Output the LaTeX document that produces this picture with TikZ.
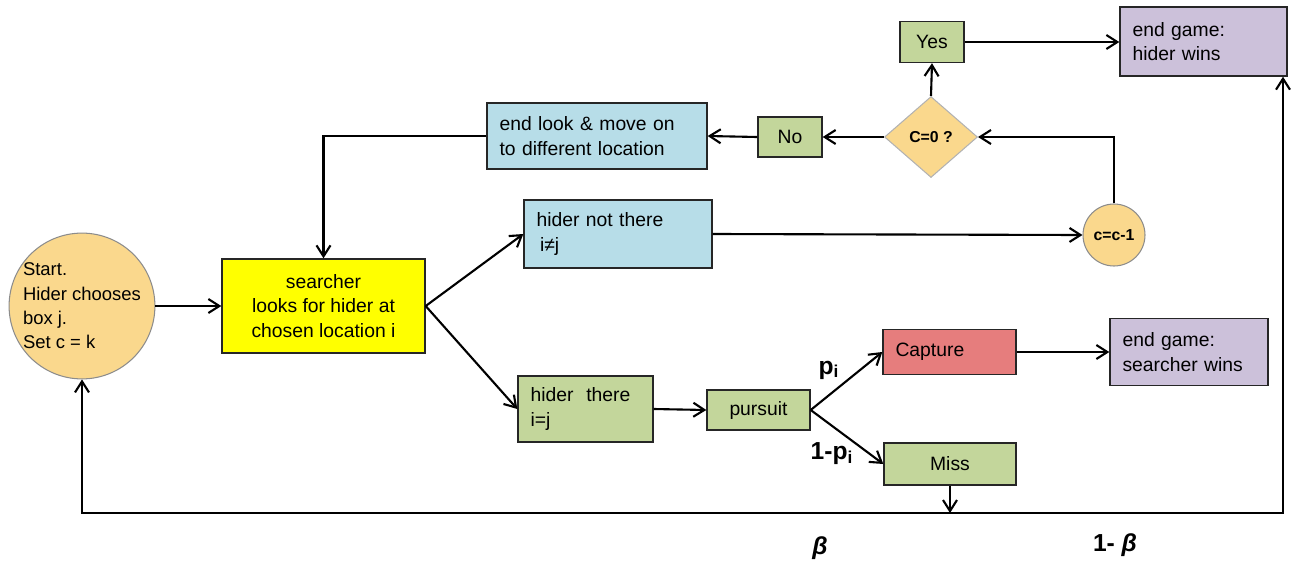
\documentclass[tikz,border=0pt]{standalone}
\usepackage{fontspec}
\setmainfont{Liberation Sans}
\usetikzlibrary{shapes.geometric,arrows.meta}
\definecolor{startorange}{RGB}{250,216,141}
\definecolor{lookyellow}{RGB}{255,255,0}
\definecolor{paleblue}{RGB}{183,221,232}
\definecolor{olivegreen}{RGB}{195,214,155}
\definecolor{palepurple}{RGB}{204,193,218}
\definecolor{capturered}{RGB}{230,125,125}

\begin{document}
\begin{tikzpicture}[x=0.02cm,y=-0.02cm,
    box/.style={draw=black!85,line width=0.8pt,inner xsep=0.25cm,inner ysep=0pt,font=\fontsize{11}{14}\selectfont},
    lbox/.style={box,align=left},
    cbox/.style={box,align=center},
    disc/.style={circle,draw=black!45,line width=0.6pt,fill=startorange,inner sep=0pt},
    arr/.style={line width=1.2pt,-{Straight Barb[length=2.2mm,width=2.8mm]}},
    lbl/.style={font=\fontsize{14}{16}\selectfont\bfseries}]
    \useasboundingbox (0,0) rectangle (1299,565);
    \pgfmathsetmacro{\smallbox}{1.28}
    % left part
    \node[disc,minimum size=2.9cm,align=left,font=\fontsize{10.5}{13.8}\selectfont] (start) at (82,306)
        {Start.\\Hider chooses\\box j.\\Set c = k};
    \node[cbox,fill=lookyellow,minimum width=4.06cm,minimum height=1.88cm] (searcher) at (323.5,306)
        {searcher\\looks for hider at\\chosen location i};
    \node[lbox,fill=paleblue,text width=3.9cm,minimum height=1.32cm] (endlook) at (597,136)
        {end look \& move on\\to different location};
    \node[lbox,fill=paleblue,text width=3.26cm,minimum height=1.36cm] (notthere) at (618,234)
        {hider not there\\\hspace{2pt}i≠j};
    \node[lbox,fill=olivegreen,text width=2.2cm,minimum height=1.32cm] (there) at (585.5,409)
        {hider\ \ there\\i=j};
    \node[cbox,fill=olivegreen,minimum width=2.06cm,minimum height=0.8cm] (pursuit) at (758.5,410) {pursuit};
    % upper right
    \node[cbox,fill=olivegreen,minimum width=\smallbox cm,minimum height=0.8cm] (no) at (790,137) {No};
    \node[diamond,draw=black!30,line width=0.6pt,fill=startorange,minimum width=1.86cm,minimum height=1.62cm,
        inner sep=0pt,font=\fontsize{9}{10}\selectfont\bfseries] (cond) at (931,137) {C=0 ?};
    \node[cbox,fill=olivegreen,minimum width=\smallbox cm,minimum height=0.82cm] (yes) at (932,42) {Yes};
    \node[lbox,fill=palepurple,text width=2.84cm,minimum height=1.38cm] (hiderwins) at (1203.5,41.5)
        {end game:\\hider wins};
    \node[disc,minimum size=1.24cm,font=\fontsize{9}{10}\selectfont\bfseries] (cminus) at (1114,235) {c=c-1};
    % lower right
    \node[lbox,fill=capturered,text width=2.16cm,minimum height=0.9cm] (capture) at (949.5,352) {Capture};
    \node[cbox,fill=olivegreen,minimum width=2.64cm,minimum height=0.84cm] (miss) at (950,464) {Miss};
    \node[lbox,fill=palepurple,text width=2.66cm,minimum height=1.34cm] (searcherwins) at (1189,352)
        {end game:\\searcher wins};
    \coordinate (jn) at (950,513);
    \coordinate (rc) at (1283,513);
    % connectors
    \draw[arr] (start.east |- searcher.west) -- (searcher.west);
    \draw[arr] (searcher.east) -- (notthere.west);
    \draw[arr] (searcher.east) -- (there.west);
    \draw[arr] (notthere.east) -- (cminus.west);
    \draw[arr] (cminus.north) |- (cond.east);
    \draw[arr] (cond.west) -- (no.east);
    \draw[arr] (no.west) -- (endlook.east);
    \draw[arr] (endlook.west) -| (searcher.north);
    \draw[arr] (cond.north) -- (yes.south);
    \draw[arr] (yes.east) -- (yes.east -| hiderwins.west);
    \draw[arr] (there.east) -- (pursuit.west);
    \draw[arr] (pursuit.east) -- (capture.west);
    \draw[arr] (pursuit.east) -- (miss.west);
    \draw[arr] (capture.east) -- (searcherwins.west);
    \draw[arr] (miss.south) -- (jn);
    \draw[arr] (jn) -| (start.south);
    \draw[arr] (jn) -- (rc) -- (rc |- hiderwins.south);
    % branch labels
    \node[lbl] (pi) at (829,370) {p\textsubscript{i}};
    \node[lbl] (notpi) at (832,454) {1-p\textsubscript{i}};
    \node[lbl] (beta) at (820,548) {\itshape β};
    \node[lbl] (notbeta) at (1115,545) {1- \itshape β};
\end{tikzpicture}
\end{document}
